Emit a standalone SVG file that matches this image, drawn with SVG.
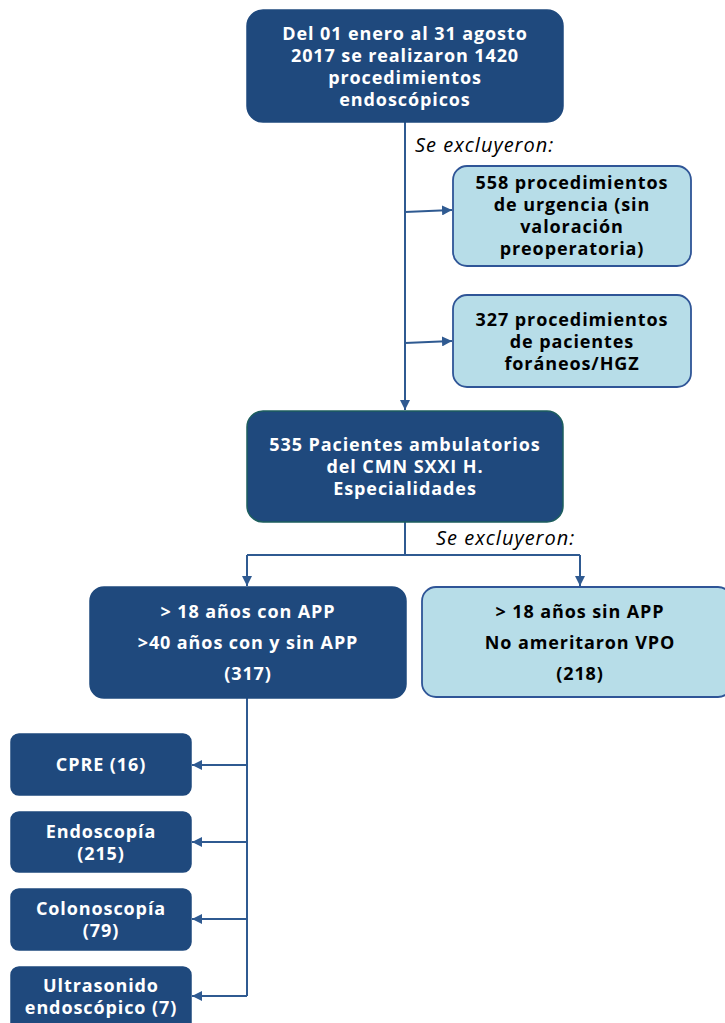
<svg xmlns="http://www.w3.org/2000/svg" width="725" height="1023" viewBox="0 0 725 1023">
<defs>
<style>
.dark{fill:#1F497D;stroke:#1F497D;stroke-width:1.5}
.light{fill:#B7DDE8;stroke:#2F5597;stroke-width:1.8}
.tw{font-family:"Open Sans","Noto Sans",sans-serif;font-weight:bold;font-size:18px;letter-spacing:0.9px;fill:#fff;text-anchor:middle}
.tb{font-family:"Open Sans","Noto Sans",sans-serif;font-weight:bold;font-size:18px;letter-spacing:0.9px;fill:#000;text-anchor:middle}
.it{font-family:"Open Sans","Noto Sans",sans-serif;font-style:italic;font-size:20px;letter-spacing:1px;fill:#000}
.ln{fill:none;stroke:#2F5A91;stroke-width:2}
</style>
<marker id="ah" viewBox="0 0 10 10" refX="10" refY="5" markerWidth="5" markerHeight="5" orient="auto" markerUnits="strokeWidth">
<path d="M0,0 L10,5 L0,10 z" fill="#2F5A91"/>
</marker>
</defs>
<rect width="725" height="1023" fill="#fff"/>
<g id="connectors">
<path class="ln" d="M405,122 V410" marker-end="url(#ah)"/>
<path class="ln" d="M405,212 L452,210" marker-end="url(#ah)"/>
<path class="ln" d="M405,343 L452,341" marker-end="url(#ah)"/>
<path class="ln" d="M405,522 V555 M247,555 H580"/>
<path class="ln" d="M247,555 V586" marker-end="url(#ah)"/>
<path class="ln" d="M580,555 V586" marker-end="url(#ah)"/>
<path class="ln" d="M247,698 V996"/>
<path class="ln" d="M247,765 H192" marker-end="url(#ah)"/>
<path class="ln" d="M247,842 H192" marker-end="url(#ah)"/>
<path class="ln" d="M247,919 H192" marker-end="url(#ah)"/>
<path class="ln" d="M247,996 H192" marker-end="url(#ah)"/>
<text class="it" x="415" y="152">Se excluyeron:</text>
<text class="it" x="436" y="545">Se excluyeron:</text>
</g>
<g id="n1">
<rect class="dark" x="247" y="10" width="316" height="112" rx="16"/>
<text class="tw" x="405" y="40">Del 01 enero al 31 agosto</text>
<text class="tw" x="405" y="62">2017 se realizaron 1420</text>
<text class="tw" x="405" y="84">procedimientos</text>
<text class="tw" x="405" y="106">endoscópicos</text>
</g>
<g id="n2">
<rect class="light" x="453" y="166" width="238" height="100" rx="14"/>
<text class="tb" x="572" y="189">558 procedimientos</text>
<text class="tb" x="572" y="211">de urgencia (sin</text>
<text class="tb" x="572" y="233">valoración</text>
<text class="tb" x="572" y="255">preoperatoria)</text>
</g>
<g id="n3">
<rect class="light" x="453" y="295" width="238" height="92" rx="14"/>
<text class="tb" x="572" y="326">327 procedimientos</text>
<text class="tb" x="572" y="348">de pacientes</text>
<text class="tb" x="572" y="370">foráneos/HGZ</text>
</g>
<g id="n4">
<rect x="247" y="411" width="316" height="111" rx="16" fill="#1F497D" stroke="#1D5E5E" stroke-width="1.5"/>
<text class="tw" x="405" y="451">535 Pacientes ambulatorios</text>
<text class="tw" x="405" y="473">del CMN SXXI H.</text>
<text class="tw" x="405" y="495">Especialidades</text>
</g>
<g id="n5">
<rect class="dark" x="90" y="587" width="316" height="111" rx="14"/>
<text class="tw" x="248" y="618">&gt; 18 años con APP</text>
<text class="tw" x="248" y="649">&gt;40 años con y sin APP</text>
<text class="tw" x="248" y="680">(317)</text>
</g>
<g id="n6">
<rect class="light" x="422" y="587" width="310" height="110" rx="14"/>
<text class="tb" x="580" y="618">&gt; 18 años sin APP</text>
<text class="tb" x="580" y="649">No ameritaron VPO</text>
<text class="tb" x="580" y="680">(218)</text>
</g>
<g id="n7">
<rect class="dark" x="11" y="734" width="180" height="61" rx="8"/>
<text class="tw" x="101" y="771">CPRE (16)</text>
</g>
<g id="n8">
<rect class="dark" x="11" y="812" width="180" height="60" rx="8"/>
<text class="tw" x="101" y="838">Endoscopía</text>
<text class="tw" x="101" y="860">(215)</text>
</g>
<g id="n9">
<rect class="dark" x="11" y="889" width="180" height="61" rx="8"/>
<text class="tw" x="101" y="915">Colonoscopía</text>
<text class="tw" x="101" y="937">(79)</text>
</g>
<g id="n10">
<rect class="dark" x="11" y="967" width="180" height="66" rx="8"/>
<text class="tw" x="101" y="992">Ultrasonido</text>
<text class="tw" x="101" y="1014">endoscópico (7)</text>
</g>
</svg>
